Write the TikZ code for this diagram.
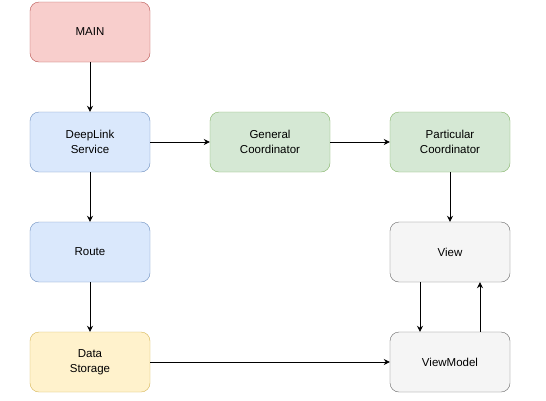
\documentclass[tikz,border=0pt]{standalone}
\usepackage{fontspec}
\setmainfont{Liberation Sans}
\usetikzlibrary{arrows.meta, positioning, calc}
\definecolor{dlbg}{HTML}{FFFFFF}
\definecolor{dlredfill}{HTML}{F8CECC}
\definecolor{dlreddraw}{HTML}{B85450}
\definecolor{dlbluefill}{HTML}{DAE8FC}
\definecolor{dlbluedraw}{HTML}{6C8EBF}
\definecolor{dlgreenfill}{HTML}{D5E8D4}
\definecolor{dlgreendraw}{HTML}{82B366}
\definecolor{dlyellowfill}{HTML}{FFF2CC}
\definecolor{dlyellowdraw}{HTML}{D6B656}
\definecolor{dlgreyfill}{HTML}{F5F5F5}
\definecolor{dlgreydraw}{HTML}{666666}
\tikzset{
  blk/.style={rectangle, rounded corners=9pt, minimum width=120pt, minimum height=60pt,
              align=center, font=\fontsize{11.5}{15}\selectfont, text=black, inner sep=2pt},
  blkred/.style={blk, draw=dlreddraw, fill=dlredfill},
  blkblue/.style={blk, draw=dlbluedraw, fill=dlbluefill},
  blkgreen/.style={blk, draw=dlgreendraw, fill=dlgreenfill},
  blkyellow/.style={blk, draw=dlyellowdraw, fill=dlyellowfill},
  blkgrey/.style={blk, draw=dlgreydraw, fill=dlgreyfill},
  flow/.style={-{Stealth[length=6pt, width=6pt, inset=2pt]}, draw=black, line width=0.8pt},
}
\begin{document}
\begin{tikzpicture}[x=1pt,y=-1pt]
    \useasboundingbox[fill=dlbg] (0,0) rectangle (546,400);
    \node[blkred]    (main)       at (90,32)   {MAIN};
    \node[blkblue]   (deeplink)   at (90,142)  {DeepLink\\Service};
    \node[blkblue]   (route)      at (90,252)  {Route};
    \node[blkyellow] (storage)    at (90,362)  {Data\\Storage};
    \node[blkgreen]  (general)    at (270,142) {General\\Coordinator};
    \node[blkgreen]  (particular) at (450,142) {Particular\\Coordinator};
    \node[blkgrey]   (view)       at (450,252) {View};
    \node[blkgrey]   (viewmodel)  at (450,362) {ViewModel};
    \draw[flow] (main) -- (deeplink);
    \draw[flow] (deeplink) -- (route);
    \draw[flow] (route) -- (storage);
    \draw[flow] (deeplink) -- (general);
    \draw[flow] (general) -- (particular);
    \draw[flow] (particular) -- (view);
    \draw[flow] (storage) -- (viewmodel);
    \draw[flow] ($(view.south)+(-30,0)$) -- ($(viewmodel.north)+(-30,0)$);
    \draw[flow] ($(viewmodel.north)+(30,0)$) -- ($(view.south)+(30,0)$);
  \end{tikzpicture}
\end{document}
